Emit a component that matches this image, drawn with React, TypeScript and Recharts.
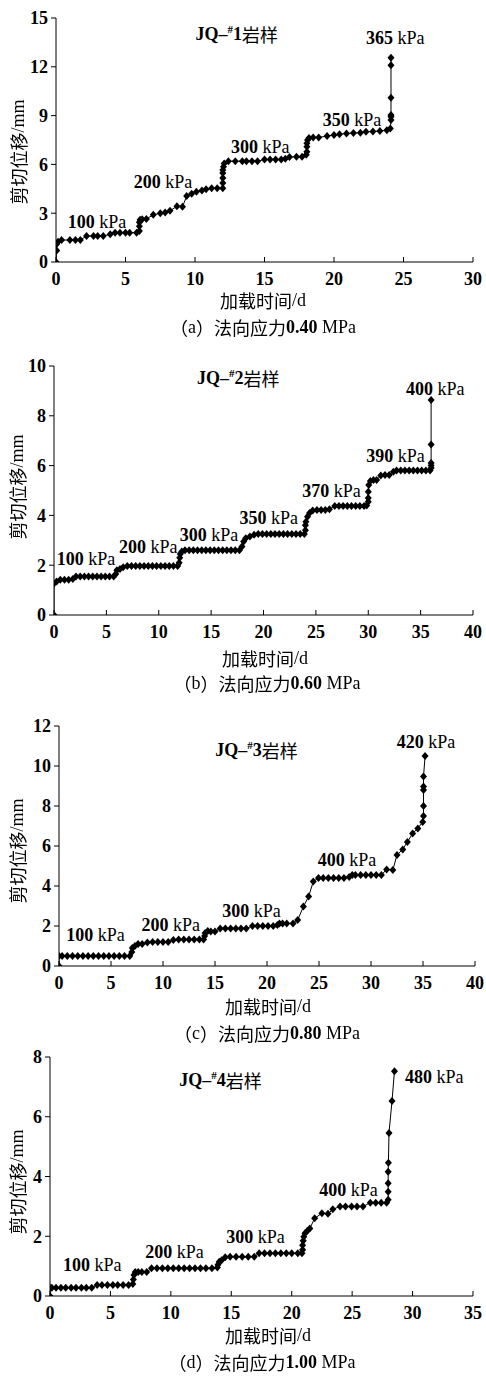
import React from 'react';
import { ComposedChart, Line, XAxis, YAxis, ReferenceDot } from 'recharts';

type Pt = [number, number];

// JQ-#1, normal stress 0.40 MPa  [time d, shear displacement mm]
const jq1Points: Pt[] = [
  [0, 0], [0.05, 0.7], [0.05, 1.1], [0.15, 1.25], [0.4, 1.35], [1.0, 1.35], [1.4, 1.35], [1.75, 1.35],
  [2.2, 1.6], [2.7, 1.6], [3.0, 1.6], [3.4, 1.6], [3.9, 1.7], [4.25, 1.8], [4.6, 1.8], [5.0, 1.8],
  [5.3, 1.8], [5.8, 1.8], [6.0, 1.9], [6.0, 2.2], [6.0, 2.45], [6.05, 2.6], [6.2, 2.63], [6.5, 2.65],
  [7.0, 2.9], [7.5, 3.0], [7.85, 3.05], [8.2, 3.15], [8.7, 3.42], [9.1, 3.4], [9.4, 4.05], [9.76, 4.2],
  [10.1, 4.32], [10.5, 4.4], [10.8, 4.47], [11.2, 4.53], [11.6, 4.53], [12.0, 4.53], [12.0, 4.85],
  [12.0, 5.16], [12.0, 5.47], [12.0, 5.65], [12.05, 5.86], [12.1, 6.05], [12.4, 6.2], [12.9, 6.2],
  [13.4, 6.2], [13.7, 6.2], [14.1, 6.2], [14.5, 6.2], [15.0, 6.3], [15.4, 6.3], [15.8, 6.3], [16.2, 6.3],
  [16.5, 6.35], [16.8, 6.45], [17.3, 6.47], [17.7, 6.47], [18.0, 6.6], [18.05, 6.78], [18.05, 7.09],
  [18.05, 7.3], [18.1, 7.5], [18.2, 7.62], [18.5, 7.66], [18.9, 7.66], [19.5, 7.74], [20.0, 7.8],
  [20.4, 7.85], [20.9, 7.9], [21.4, 7.93], [21.9, 7.95], [22.3, 8.0], [22.8, 8.02], [23.3, 8.05],
  [23.8, 8.1], [24.05, 8.2], [24.1, 8.73], [24.1, 8.93], [24.1, 9.03], [24.1, 10.1], [24.1, 12.1],
  [24.1, 12.55],
];
const jq1Stages = ['100', '200', '300', '350', '365'];
const jq1StageAt: Pt[] = [[2.95, 2.46], [7.7, 4.9], [14.7, 7.07], [21.3, 8.73], [24.4, 13.8]];
const jq1XTicks = [0, 5, 10, 15, 20, 25, 30];
const jq1YTicks = [0, 3, 6, 9, 12, 15];

// JQ-#2, normal stress 0.60 MPa
const jq2Points: Pt[] = [
  [0, 0], [0, 1.27], [0.25, 1.35], [0.6, 1.42], [1.0, 1.42], [1.4, 1.42], [1.8, 1.45], [2.1, 1.55],
  [2.5, 1.55], [2.9, 1.55], [3.3, 1.55], [3.7, 1.55], [4.1, 1.55], [4.5, 1.55], [4.9, 1.55], [5.3, 1.55],
  [5.7, 1.55], [5.9, 1.65], [6.0, 1.8], [6.3, 1.85], [6.6, 1.92], [7.0, 1.97], [7.4, 1.97], [7.8, 1.97],
  [8.2, 1.97], [8.6, 1.97], [9.0, 1.97], [9.4, 1.97], [9.8, 1.97], [10.2, 1.97], [10.6, 1.97], [11.0, 1.97],
  [11.4, 1.97], [11.8, 1.97], [11.95, 2.1], [12.0, 2.3], [12.05, 2.45], [12.2, 2.55], [12.5, 2.6],
  [12.9, 2.6], [13.3, 2.6], [13.7, 2.6], [14.1, 2.6], [14.5, 2.6], [14.9, 2.6], [15.3, 2.6], [15.7, 2.6],
  [16.1, 2.6], [16.5, 2.6], [16.9, 2.6], [17.3, 2.6], [17.7, 2.6], [17.95, 2.75], [18.1, 2.95],
  [18.3, 3.08], [18.7, 3.15], [19.1, 3.22], [19.5, 3.25], [19.9, 3.25], [20.3, 3.25], [20.7, 3.25],
  [21.1, 3.25], [21.5, 3.25], [21.9, 3.25], [22.3, 3.25], [22.7, 3.25], [23.1, 3.25], [23.5, 3.25],
  [23.9, 3.25], [24.0, 3.4], [24.0, 3.6], [24.05, 3.75], [24.2, 3.95], [24.4, 4.1], [24.7, 4.2],
  [25.1, 4.22], [25.5, 4.22], [25.9, 4.22], [26.3, 4.25], [26.8, 4.38], [27.2, 4.38], [27.6, 4.38],
  [28.0, 4.38], [28.4, 4.38], [28.8, 4.38], [29.2, 4.38], [29.6, 4.38], [29.85, 4.4], [30.0, 4.55],
  [30.0, 4.7], [30.0, 4.95], [30.05, 5.22], [30.2, 5.38], [30.5, 5.42], [30.8, 5.42], [31.2, 5.6],
  [31.6, 5.62], [32.0, 5.62], [32.4, 5.75], [32.7, 5.8], [33.1, 5.8], [33.5, 5.8], [33.9, 5.8],
  [34.3, 5.8], [34.7, 5.8], [35.1, 5.8], [35.5, 5.8], [35.9, 5.8], [36.0, 5.9], [36.0, 6.0],
  [36.0, 6.1], [36.0, 6.85], [36.0, 8.63],
];
const jq2Stages = ['100', '200', '300', '350', '370', '390', '400'];
const jq2StageAt: Pt[] = [[3.05, 2.25], [9.0, 2.73], [14.8, 3.2], [20.5, 3.9], [26.5, 5.0], [32.6, 6.4], [36.4, 9.07]];
const jq2XTicks = [0, 5, 10, 15, 20, 25, 30, 35, 40];
const jq2YTicks = [0, 2, 4, 6, 8, 10];

// JQ-#3, normal stress 0.80 MPa
const jq3Points: Pt[] = [
  [0, 0], [0, 0.5], [0.3, 0.5], [0.8, 0.5], [1.3, 0.5], [1.8, 0.5], [2.3, 0.5], [2.8, 0.5], [3.3, 0.5],
  [3.8, 0.5], [4.3, 0.5], [4.8, 0.5], [5.3, 0.5], [5.8, 0.5], [6.3, 0.5], [6.8, 0.5], [7.0, 0.7],
  [7.05, 0.9], [7.3, 1.0], [7.6, 1.1], [8.0, 1.1], [8.5, 1.17], [9.0, 1.2], [9.5, 1.2], [10.0, 1.2],
  [10.5, 1.2], [11.0, 1.3], [11.5, 1.33], [12.0, 1.33], [12.5, 1.33], [13.0, 1.33], [13.5, 1.33],
  [13.9, 1.33], [14.0, 1.5], [14.05, 1.65], [14.3, 1.75], [14.6, 1.72], [15.0, 1.72], [15.5, 1.88],
  [16.0, 1.88], [16.5, 1.88], [17.0, 1.88], [17.5, 1.88], [18.0, 1.88], [18.6, 2.0], [19.1, 2.0],
  [19.6, 2.0], [20.1, 2.0], [20.6, 2.0], [21.0, 2.05], [21.2, 2.13], [21.5, 2.13], [21.9, 2.13],
  [22.5, 2.13], [22.95, 2.3], [23.5, 2.97], [24.0, 3.47], [24.45, 4.22], [24.95, 4.4], [25.4, 4.4],
  [25.9, 4.4], [26.4, 4.4], [26.9, 4.4], [27.4, 4.4], [27.9, 4.45], [28.2, 4.55], [28.5, 4.55],
  [29.0, 4.55], [29.5, 4.55], [30.0, 4.55], [30.5, 4.55], [31.0, 4.55], [31.5, 4.83], [32.1, 4.8],
  [32.5, 5.55], [33.05, 5.83], [33.5, 6.2], [34.0, 6.63], [34.5, 6.88], [34.97, 7.2], [35.05, 7.5],
  [35.05, 8.0], [35.05, 8.8], [35.05, 8.97], [35.05, 9.47], [35.2, 10.5],
];
const jq3Stages = ['100', '200', '300', '400', '420'];
const jq3StageAt: Pt[] = [[3.5, 1.55], [10.75, 2.05], [18.5, 2.75], [27.7, 5.3], [35.3, 11.2]];
const jq3XTicks = [0, 5, 10, 15, 20, 25, 30, 35, 40];
const jq3YTicks = [0, 2, 4, 6, 8, 10, 12];

// JQ-#4, normal stress 1.00 MPa
const jq4Points: Pt[] = [
  [0, 0], [0, 0.28], [0.15, 0.28], [0.5, 0.28], [0.9, 0.28], [1.3, 0.28], [1.75, 0.28], [2.15, 0.28],
  [2.6, 0.28], [3.0, 0.28], [3.45, 0.28], [3.9, 0.37], [4.3, 0.37], [4.75, 0.37], [5.2, 0.37],
  [5.6, 0.37], [6.05, 0.37], [6.5, 0.37], [6.85, 0.4], [6.9, 0.55], [6.95, 0.7], [7.05, 0.8], [7.3, 0.8],
  [7.6, 0.8], [8.0, 0.8], [8.4, 0.93], [8.85, 0.93], [9.3, 0.93], [9.75, 0.93], [10.2, 0.93],
  [10.65, 0.93], [11.1, 0.93], [11.55, 0.93], [12.0, 0.93], [12.45, 0.93], [12.9, 0.93], [13.4, 0.93],
  [13.85, 0.95], [13.9, 1.05], [14.0, 1.15], [14.2, 1.2], [14.5, 1.3], [14.9, 1.31], [15.4, 1.31],
  [15.9, 1.31], [16.4, 1.31], [16.9, 1.31], [17.3, 1.43], [17.75, 1.43], [18.2, 1.43], [18.65, 1.43],
  [19.1, 1.43], [19.55, 1.43], [20.0, 1.43], [20.5, 1.43], [20.85, 1.43], [20.9, 1.55], [20.9, 1.7],
  [20.95, 1.85], [21.0, 1.98], [21.1, 2.1], [21.3, 2.18], [21.5, 2.26], [21.9, 2.6], [22.5, 2.77],
  [23.0, 2.75], [23.4, 2.9], [24.0, 3.0], [24.45, 3.0], [24.95, 3.0], [25.4, 3.0], [25.9, 3.0],
  [26.5, 3.12], [26.95, 3.12], [27.4, 3.12], [27.85, 3.12], [27.98, 3.22], [27.98, 3.49], [27.98, 3.77],
  [27.98, 4.16], [28.0, 4.46], [28.05, 5.46], [28.3, 6.53], [28.5, 7.52],
];
const jq4Stages = ['100', '200', '300', '400', '480'];
const jq4StageAt: Pt[] = [[3.5, 1.04], [10.3, 1.47], [17.0, 1.97], [24.7, 3.55], [31.8, 7.33]];
const jq4XTicks = [0, 5, 10, 15, 20, 25, 30, 35];
const jq4YTicks = [0, 2, 4, 6, 8];

const sampleNames = ['1', '2', '3', '4'];
const captionLetters = ['a', 'b', 'c', 'd'];
const normalStress = ['0.40', '0.60', '0.80', '1.00'];
const titleAt: Pt[] = [[13.0, 14.0], [17.6, 9.5], [19.0, 10.8], [14.1, 7.22]];

const SERIF = '"Liberation Serif", "Times New Roman", serif';
const CJK = '"Noto Sans CJK SC", sans-serif';
const FS = 18;

const panels = [
  { points: jq1Points, stages: jq1Stages, stageAt: jq1StageAt, xTicks: jq1XTicks, yTicks: jq1YTicks,
    box: { left: 56, right: 473, top: 18, bottom: 262 }, yLabel: [18, 152], xLabel: [263, 300], cap: [263, 327] },
  { points: jq2Points, stages: jq2Stages, stageAt: jq2StageAt, xTicks: jq2XTicks, yTicks: jq2YTicks,
    box: { left: 54, right: 473, top: 366, bottom: 615 }, yLabel: [17, 487], xLabel: [265, 658], cap: [267, 683] },
  { points: jq3Points, stages: jq3Stages, stageAt: jq3StageAt, xTicks: jq3XTicks, yTicks: jq3YTicks,
    box: { left: 59, right: 475, top: 726, bottom: 966 }, yLabel: [17, 851], xLabel: [268, 1006], cap: [267, 1033] },
  { points: jq4Points, stages: jq4Stages, stageAt: jq4StageAt, xTicks: jq4XTicks, yTicks: jq4YTicks,
    box: { left: 50, right: 473, top: 1057, bottom: 1296 }, yLabel: [17, 1182], xLabel: [268, 1335], cap: [262, 1362] },
];

const Diamond = (props: any) => {
  const { cx, cy } = props;
  if (cx == null || cy == null) return null;
  return (
    <path
      d={`M${cx},${cy - 4}L${cx + 3.5},${cy}L${cx},${cy + 4}L${cx - 3.5},${cy}Z`}
      fill="#000"
    />
  );
};

const stageShape = (value: string) => (p: any) => (
  <text x={p.cx} y={p.cy} textAnchor="middle" dominantBaseline="central" fontFamily={SERIF} fontSize={FS} fill="#000">
    <tspan fontWeight="bold">{value}</tspan>
    <tspan>{'\u00a0kPa'}</tspan>
  </text>
);

const titleShape = (name: string) => (p: any) => (
  <text x={p.cx} y={p.cy} textAnchor="middle" dominantBaseline="central" fill="#000" fontSize={FS}>
    <tspan fontFamily={SERIF} fontWeight="bold">JQ–</tspan>
    <tspan fontFamily={SERIF} fontWeight="bold" fontSize={11} dy={-5}>#</tspan>
    <tspan fontFamily={SERIF} fontWeight="bold" dy={5}>{name}</tspan>
    <tspan fontFamily={CJK}>岩样</tspan>
  </text>
);

const TOP_PAD = 12;
const AXIS_H = 30;

export default function App() {
  return (
    <div style={{ position: 'absolute', left: 0, top: 0, width: 486, height: 1376, background: '#fff' }}>
      {panels.map((pn, i) => {
        const { box } = pn;
        const h = TOP_PAD + (box.bottom - box.top) + AXIS_H;
        const data = pn.points.map(([x, y]) => ({ x, y }));
        const xMax = pn.xTicks[pn.xTicks.length - 1];
        const yMax = pn.yTicks[pn.yTicks.length - 1];
        return (
          <div key={i} style={{ position: 'absolute', left: 0, top: box.top - TOP_PAD }}>
            <ComposedChart width={486} height={h} margin={{ top: TOP_PAD, right: 486 - box.right, bottom: 0, left: 0 }}>
              <XAxis
                type="number"
                dataKey="x"
                domain={[0, xMax]}
                ticks={pn.xTicks}
                interval={0}
                height={AXIS_H}
                allowDataOverflow
                axisLine={{ stroke: '#000', strokeWidth: 1 }}
                tickLine={{ stroke: '#000', strokeWidth: 1 }}
                tickSize={-5}
                tickMargin={15}
                tick={{ fill: '#000', fontFamily: SERIF, fontSize: FS, fontWeight: 'bold' }}
              />
              <YAxis
                type="number"
                domain={[0, yMax]}
                ticks={pn.yTicks}
                interval={0}
                width={box.left}
                allowDataOverflow
                axisLine={{ stroke: '#000', strokeWidth: 1 }}
                tickLine={{ stroke: '#000', strokeWidth: 1 }}
                tickSize={5}
                tickMargin={3}
                tick={{ fill: '#000', fontFamily: SERIF, fontSize: FS, fontWeight: 'bold' }}
              />
              <Line
                data={data}
                dataKey="y"
                type="linear"
                stroke="#000"
                strokeWidth={1}
                dot={(p: any) => <Diamond key={`dot-${p.index}`} {...p} />}
                activeDot={false}
                isAnimationActive={false}
              />
              {pn.stages.map((s, k) => (
                <ReferenceDot
                  key={s + k}
                  x={pn.stageAt[k][0]}
                  y={pn.stageAt[k][1]}
                  r={0}
                  shape={stageShape(s)}
                />
              ))}
              <ReferenceDot x={titleAt[i][0]} y={titleAt[i][1]} r={0} shape={titleShape(sampleNames[i])} />
            </ComposedChart>
          </div>
        );
      })}
      <svg
        width={486}
        height={1376}
        style={{ position: 'absolute', left: 0, top: 0, pointerEvents: 'none', willChange: 'transform' }}
      >
        {panels.map((pn, i) => (
          <g key={i} fontSize={FS} fill="#000">
            <text
              x={pn.yLabel[0]}
              y={pn.yLabel[1]}
              textAnchor="middle"
              dominantBaseline="central"
              transform={`rotate(-90 ${pn.yLabel[0]} ${pn.yLabel[1]})`}
            >
              <tspan fontFamily={CJK}>剪切位移</tspan>
              <tspan fontFamily={SERIF}>/mm</tspan>
            </text>
            <text x={pn.xLabel[0]} y={pn.xLabel[1]} textAnchor="middle" dominantBaseline="central">
              <tspan fontFamily={CJK}>加载时间</tspan>
              <tspan fontFamily={SERIF}>/d</tspan>
            </text>
            <text x={pn.cap[0]} y={pn.cap[1]} textAnchor="middle" dominantBaseline="central">
              <tspan fontFamily={CJK}>（</tspan>
              <tspan fontFamily={SERIF}>{captionLetters[i]}</tspan>
              <tspan fontFamily={CJK}>）法向应力</tspan>
              <tspan fontFamily={SERIF} fontWeight="bold">{normalStress[i]}</tspan>
              <tspan fontFamily={SERIF}>{'\u00a0MPa'}</tspan>
            </text>
          </g>
        ))}
      </svg>
    </div>
  );
}
